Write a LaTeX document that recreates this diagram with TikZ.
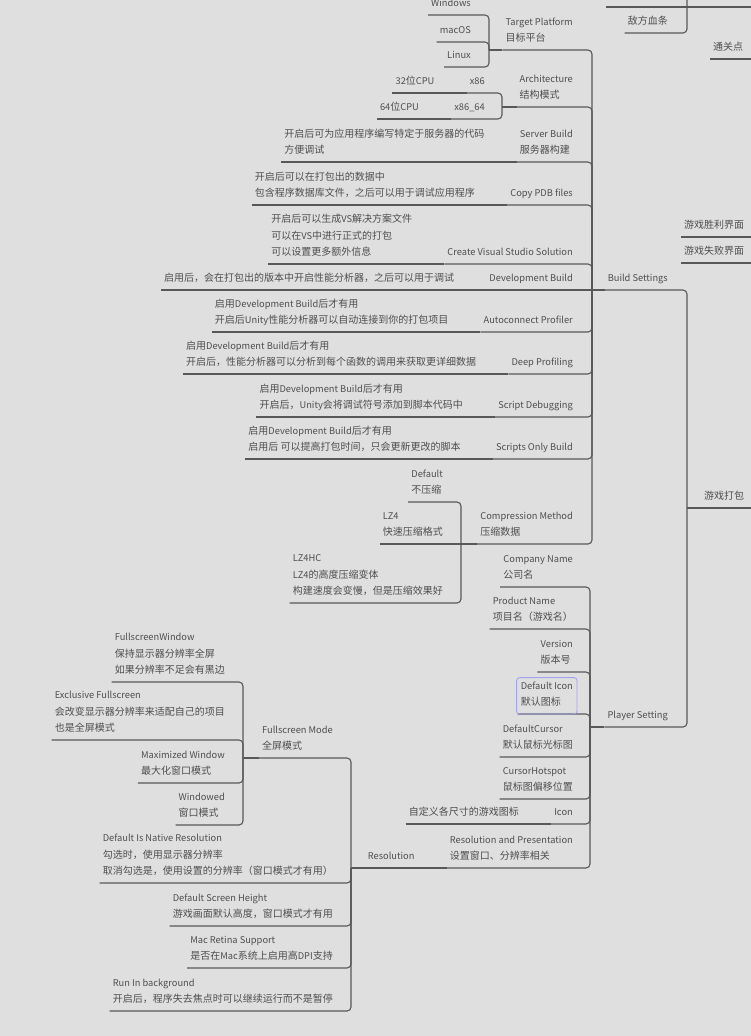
\documentclass[tikz,border=0pt]{standalone}
\usepackage{fontspec}
\setmainfont{Noto Sans CJK SC}
\definecolor{bg}{HTML}{DFDFDF}
\definecolor{ink}{HTML}{4E4E4E}
\definecolor{wire}{HTML}{585858}
\definecolor{pick}{HTML}{A4A4EE}

% Latin runs are set a little smaller than the CJK text
\newcommand\E[1]{{\fontsize{9.3pt}{16.5pt}\selectfont #1}}

% a topic: text block right-aligned at x, underline at y, joined to its bracket
\newcommand\twig[5]{%
  \node[txt, anchor=south east] (#1) at (#2,#3-3) {#4\strut};
  \draw[ln] ([shift={(-3pt,-3pt)}]#1.south west) -| (#5);
}
% a topic whose underline runs straight into its bracket point
\newcommand\twigflat[5]{%
  \node[txt, anchor=south east] (#1) at (#2,#3-3) {#4\strut};
  \draw[ln] ([shift={(-3pt,-3pt)}]#1.south west) -- (#5);
}
% a note to the left of a topic, sharing its underline
\newcommand\note[3]{%
  \node[txt, anchor=south east] (#1) at ([xshift=-35pt]#2.south west) {#3\strut};
  \draw[ln] ([shift={(-3pt,-3pt)}]#1.south west) -- ([shift={(-3pt,-3pt)}]#2.south west);
}
% from a bracket point to the start of its owner's underline
\newcommand\stem[2]{%
  \draw[ln] (#1) -- ([shift={(-3pt,-3pt)}]#2.south west);
}

\begin{document}
\begin{tikzpicture}[x=1pt, y=-1pt,
  txt/.style={inner sep=0pt, align=left, text=ink,
    font=\fontsize{10pt}{16.5pt}\selectfont},
  ln/.style={draw=wire, line width=1.1pt, rounded corners=4pt}]

\fill[bg] (0,0) rectangle (751,1036);
\useasboundingbox (0,0) rectangle (751,1036);
\clip (0,0) rectangle (751,1036);

% bracket points
\coordinate (rootB) at (687,508);
\coordinate (bsB)   at (592,290);
\coordinate (psB)   at (590,727);
\coordinate (tpB)   at (489,50);
\coordinate (arB)   at (502,107);
\coordinate (cmB)   at (461,544);
\coordinate (resB)  at (351,868);
\coordinate (fmB)   at (243,758);
\coordinate (topB)  at (687,-10);
\coordinate (cutL)  at (606,7);
\coordinate (cutR)  at (760,7);

% neighbouring branches at the right edge
\draw[ln] (cutL) -- (cutR);
\twig{dfxt}{668}{33}{敌方血条}{topB}
\node[txt, anchor=south west] (tgd) at (713,56) {通关点\strut};
\draw[ln] ([shift={(-3pt,-3pt)}]tgd.south west) -- +(60pt,0);
\node[txt, anchor=south west] (win) at (684,234) {游戏胜利界面\strut};
\draw[ln] ([shift={(-3pt,-3pt)}]win.south west) -- +(80pt,0);
\node[txt, anchor=south west] (lose) at (684,260) {游戏失败界面\strut};
\draw[ln] ([shift={(-3pt,-3pt)}]lose.south west) -- +(80pt,0);

% root
\node[txt, anchor=south west] (root) at (704,505) {游戏打包\strut};
\draw[ln] (rootB) -- +(70pt,0);

% Build Settings
\twig{bs}{668}{290}{\E{Build Settings}}{rootB}
\stem{bsB}{bs}

\twig{tp}{573}{50}{\E{Target Platform}\\目标平台}{bsB}
\stem{tpB}{tp}
\twig{pw}{471}{15}{\E{Windows}}{tpB}
\twig{pm}{471}{42}{\E{macOS}}{tpB}
\twig{pl}{471}{67}{\E{Linux}}{tpB}

\twig{ar}{573}{107}{\E{Architecture}\\结构模式}{bsB}
\stem{arB}{ar}
\twig{a32}{485}{93}{\E{x86}}{arB}
\note{a32n}{a32}{\E{32}位\E{CPU}}
\twig{a64}{485}{119}{\E{x86\_64}}{arB}
\note{a64n}{a64}{\E{64}位\E{CPU}}

\twig{sb}{573}{162}{\E{Server Build}\\服务器构建}{bsB}
\note{sbn}{sb}{开启后可为应用程序编写特定于服务器的代码\\方便调试}

\twig{pdb}{573}{205}{\E{Copy PDB files}}{bsB}
\note{pdbn}{pdb}{开启后可以在打包出的数据中\\包含程序数据库文件，之后可以用于调试应用程序}

\twig{vs}{573}{264}{\E{Create Visual Studio Solution}}{bsB}
\note{vsn}{vs}{开启后可以生成\E{VS}解决方案文件\\可以在\E{VS}中进行正式的打包\\可以设置更多额外信息}

\twigflat{db}{573}{290}{\E{Development Build}}{bsB}
\note{dbn}{db}{启用后，会在打包出的版本中开启性能分析器，之后可以用于调试}

\twig{ap}{573}{332}{\E{Autoconnect Profiler}}{bsB}
\note{apn}{ap}{启用\E{Development Build}后才有用\\开启后\E{Unity}性能分析器可以自动连接到你的打包项目}

\twig{dp}{573}{374}{\E{Deep Profiling}}{bsB}
\note{dpn}{dp}{启用\E{Development Build}后才有用\\开启后，性能分析器可以分析到每个函数的调用来获取更详细数据}

\twig{sd}{573}{417}{\E{Script Debugging}}{bsB}
\note{sdn}{sd}{启用\E{Development Build}后才有用\\开启后，\E{Unity}会将调试符号添加到脚本代码中}

\twig{sob}{573}{459}{\E{Scripts Only Build}}{bsB}
\note{sobn}{sob}{启用\E{Development Build}后才有用\\启用后 可以提高打包时间，只会更新更改的脚本}

\twig{cm}{573}{544}{\E{Compression Method}\\压缩数据}{bsB}
\stem{cmB}{cm}
\twig{c0}{443}{502}{\E{Default}\\不压缩}{cmB}
\twigflat{c1}{443}{544}{\E{LZ4}\\快速压缩格式}{cmB}
\twig{c2}{443}{603}{\E{LZ4HC}\\\E{LZ4}的高度压缩变体\\构建速度会变慢，但是压缩效果好}{cmB}

% Player Setting
\twig{ps}{668}{727}{\E{Player Setting}}{rootB}
\stem{psB}{ps}

\twig{cn}{573}{587}{\E{Company Name}\\公司名}{psB}
\twig{pn}{573}{629}{\E{Product Name}\\项目名（游戏名）}{psB}
\twig{ver}{573}{672}{\E{Version}\\版本号}{psB}
\twig{di}{573}{714}{\E{Default Icon}\\默认图标}{psB}
\draw[pick, line width=0.9pt, rounded corners=3pt]
  ([shift={(-4pt,4pt)}]di.north west) rectangle ([shift={(4pt,-3pt)}]di.south east);
\twig{dc}{573}{757}{\E{DefaultCursor}\\默认鼠标光标图}{psB}
\twig{ch}{573}{799}{\E{CursorHotspot}\\鼠标图偏移位置}{psB}
\twig{ic}{573}{824}{\E{Icon}}{psB}
\note{icn}{ic}{自定义各尺寸的游戏图标}
\twig{rp}{573}{868}{\E{Resolution and Presentation}\\设置窗口、分辨率相关}{psB}
\note{res}{rp}{\E{Resolution}}
\stem{resB}{res}

% Resolution
\twig{fm}{333}{758}{\E{Fullscreen Mode}\\全屏模式}{resB}
\stem{fmB}{fm}
\twig{fw}{225}{682}{\E{FullscreenWindow}\\保持显示器分辨率全屏\\如果分辨率不足会有黑边}{fmB}
\twig{ef}{225}{740}{\E{Exclusive Fullscreen}\\会改变显示器分辨率来适配自己的项目\\也是全屏模式}{fmB}
\twig{mw}{225}{783}{\E{Maximized Window}\\最大化窗口模式}{fmB}
\twig{wd}{225}{825}{\E{Windowed}\\窗口模式}{fmB}

\twig{dnr}{333}{883}{\E{Default Is Native Resolution}\\勾选时，使用显示器分辨率\\取消勾选是，使用设置的分辨率（窗口模式才有用）}{resB}
\twig{dsh}{333}{926}{\E{Default Screen Height}\\游戏画面默认高度，窗口模式才有用}{resB}
\twig{mrs}{333}{968}{\E{Mac Retina Support}\\是否在\E{Mac}系统上启用高\E{DPI}支持}{resB}
\twig{rib}{333}{1011}{\E{Run In background}\\开启后，程序失去焦点时可以继续运行而不是暂停}{resB}

\end{tikzpicture}
\end{document}
